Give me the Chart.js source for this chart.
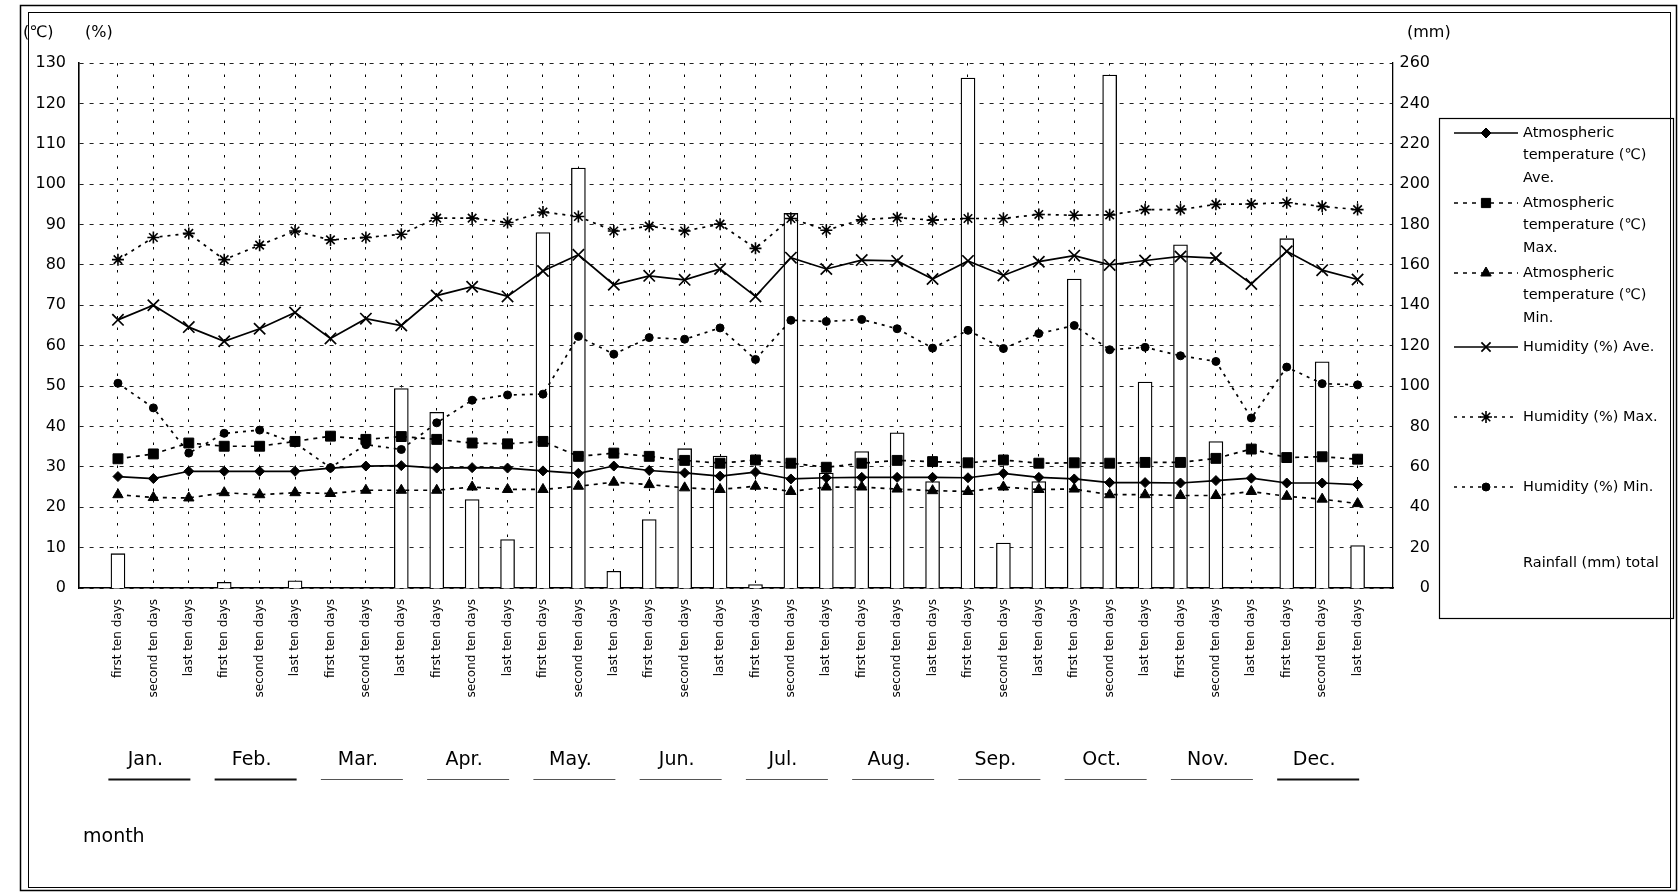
<!DOCTYPE html>
<html>
<head>
<meta charset="utf-8">
<script src="https://cdn.jsdelivr.net/npm/chart.js@4.4.1/dist/chart.umd.min.js"></script>
<style>
  html, body { margin: 0; padding: 0; background: #fff; }
  canvas { display: block; }
</style>
</head>
<body>
<canvas id="chart" width="1679" height="893"></canvas>
<script>
// Ten-day periods, three per month
const months = ['Jan.', 'Feb.', 'Mar.', 'Apr.', 'May.', 'Jun.', 'Jul.', 'Aug.', 'Sep.', 'Oct.', 'Nov.', 'Dec.'];
const periods = ['first ten days', 'second ten days', 'last ten days'];
const dekads = months.flatMap(() => periods);

// Atmospheric temperature (℃)
const tempAve = [27.6, 27.1, 28.9, 28.9, 28.9, 28.9, 29.7, 30.2, 30.3, 29.7, 29.8, 29.7,
                 29.0, 28.4, 30.2, 29.1, 28.5, 27.7, 28.7, 27.0, 27.3, 27.4, 27.4, 27.4,
                 27.3, 28.4, 27.4, 27.0, 26.1, 26.1, 26.0, 26.6, 27.2, 26.0, 26.0, 25.6];
const tempMax = [32.0, 33.2, 35.9, 35.1, 35.1, 36.3, 37.6, 36.8, 37.5, 36.8, 35.9, 35.7,
                 36.3, 32.6, 33.4, 32.6, 31.6, 30.9, 31.7, 30.9, 29.9, 30.9, 31.6, 31.3,
                 31.0, 31.7, 30.9, 31.0, 30.9, 31.1, 31.1, 32.1, 34.4, 32.3, 32.5, 31.9];
const tempMin = [23.1, 22.4, 22.3, 23.6, 23.1, 23.6, 23.4, 24.2, 24.2, 24.2, 25.0, 24.4,
                 24.4, 25.2, 26.2, 25.6, 24.8, 24.4, 25.2, 23.9, 25.0, 25.0, 24.5, 24.1,
                 23.9, 25.0, 24.4, 24.5, 23.1, 23.1, 22.9, 22.9, 23.9, 22.7, 22.0, 20.9];

// Humidity (%)
const humAve = [66.4, 70.0, 64.6, 61.1, 64.2, 68.2, 61.8, 66.7, 65.0, 72.4, 74.6, 72.2,
                78.5, 82.5, 75.1, 77.3, 76.3, 79.0, 72.2, 81.8, 79.0, 81.2, 81.0, 76.5,
                81.0, 77.4, 80.8, 82.3, 80.0, 81.1, 82.1, 81.7, 75.3, 83.4, 78.7, 76.4];
const humMax = [81.3, 86.8, 87.8, 81.3, 84.9, 88.4, 86.2, 86.8, 87.6, 91.6, 91.6, 90.5,
                93.1, 92.0, 88.4, 89.6, 88.4, 90.1, 84.1, 91.5, 88.6, 91.2, 91.7, 91.1,
                91.5, 91.5, 92.5, 92.3, 92.4, 93.7, 93.7, 95.0, 95.1, 95.4, 94.5, 93.7];
const humMin = [50.7, 44.6, 33.4, 38.3, 39.1, 35.9, 29.8, 35.5, 34.3, 40.9, 46.5, 47.8,
                48.0, 62.3, 57.9, 62.0, 61.6, 64.4, 56.6, 66.3, 66.0, 66.5, 64.2, 59.4,
                63.8, 59.3, 63.0, 65.0, 59.0, 59.6, 57.5, 56.1, 42.1, 54.7, 50.6, 50.3];

// Rainfall (mm) total per ten days
const rainfall = [17.0, 0, 0, 2.8, 0, 3.6, 0, 0, 98.8, 87.0, 43.8, 24.0,
                  176.0, 208.0, 8.3, 33.9, 69.0, 65.3, 1.7, 185.5, 56.9, 67.6, 76.9, 52.7,
                  252.5, 22.3, 52.7, 153.0, 254.0, 102.0, 170.0, 72.5, 0, 173.0, 112.0, 21.0];

// Axis ticks
const leftTicks = [0, 10, 20, 30, 40, 50, 60, 70, 80, 90, 100, 110, 120, 130];
const rightTicks = [0, 20, 40, 60, 80, 100, 120, 140, 160, 180, 200, 220, 240, 260];

// Legend text, wrapped as it is set in the key box
const legendText = [
  ['Atmospheric', 'temperature (℃)', 'Ave.'],
  ['Atmospheric', 'temperature (℃)', 'Max.'],
  ['Atmospheric', 'temperature (℃)', 'Min.'],
  ['Humidity (%) Ave.'],
  ['Humidity (%) Max.'],
  ['Humidity (%) Min.'],
  ['Rainfall (mm) total']
];

const FONT = "'DejaVu Sans', Verdana, sans-serif";
const W = 1679, H = 893;

const xy = arr => arr.map((v, i) => ({ x: i, y: v }));

const lineBase = {
  type: 'line', yAxisID: 'y', order: 1, tension: 0,
  borderColor: '#000', backgroundColor: '#000', borderWidth: 1.7,
  pointBorderColor: '#000', pointBackgroundColor: '#000', pointBorderWidth: 1
};
const DASH = [4, 5];

const datasets = [
  { ...lineBase, label: 'Atmospheric temperature (℃) Ave.', data: xy(tempAve),
    pointStyle: 'rectRot', pointRadius: 5 },
  { ...lineBase, label: 'Atmospheric temperature (℃) Max.', data: xy(tempMax),
    borderDash: DASH, pointStyle: 'rect', pointRadius: 7 },
  { ...lineBase, label: 'Atmospheric temperature (℃) Min.', data: xy(tempMin),
    borderDash: DASH, pointStyle: 'triangle', pointRadius: 6 },
  { ...lineBase, label: 'Humidity (%) Ave.', data: xy(humAve),
    pointStyle: 'crossRot', pointRadius: 8, pointBorderWidth: 1.7 },
  { ...lineBase, label: 'Humidity (%) Max.', data: xy(humMax),
    borderDash: [3, 5], pointStyle: 'star', pointRadius: 6, pointBorderWidth: 1.6 },
  { ...lineBase, label: 'Humidity (%) Min.', data: xy(humMin),
    borderDash: [3, 5], pointStyle: 'circle', pointRadius: 4 },
  { type: 'bar', label: 'Rainfall (mm) total', yAxisID: 'y2', order: 10, data: xy(rainfall),
    backgroundColor: '#fff', borderColor: '#000', borderWidth: 1.3, barThickness: 14 }
];

// Frame, unit captions, month row, and the key box
const decor = {
  id: 'decor',
  afterDraw(chart) {
    const ctx = chart.ctx;
    const xs = chart.scales.x;
    const y2 = chart.scales.y2;
    ctx.save();

    // outer double frame
    ctx.strokeStyle = '#000';
    ctx.setLineDash([]);
    ctx.lineWidth = 1.5;
    ctx.strokeRect(20.5, 5.5, W - 23, H - 8);
    ctx.lineWidth = 1;
    ctx.strokeRect(28.5, 12.5, W - 37, H - 18);

    // unit captions
    ctx.fillStyle = '#000';
    ctx.textBaseline = 'middle';
    ctx.font = '16px ' + FONT;
    ctx.textAlign = 'left';
    ctx.fillText('(℃)', 23, 33);
    ctx.fillText('(%)', 85, 33);
    ctx.fillText('(mm)', y2.left + 14, 33);

    // month names under each group of three ten-day periods
    ctx.font = '19px ' + FONT;
    ctx.textAlign = 'center';
    months.forEach((m, k) => {
      const cx = xs.getPixelForValue(3 * k + 1);
      ctx.fillText(m, cx - 8, 760);
      ctx.lineWidth = (k < 2 || k === 11) ? 2 : 1;
      ctx.strokeStyle = (k < 2 || k === 11) ? '#111' : '#555';
      ctx.beginPath();
      ctx.moveTo(cx - 45, 779.5);
      ctx.lineTo(cx + 37, 779.5);
      ctx.stroke();
    });
    ctx.textAlign = 'left';
    ctx.fillText('month', 83, 837);

    // key box
    const bx = 1439, by = 118, bw = 234, bh = 500;
    ctx.strokeStyle = '#000';
    ctx.lineWidth = 1.2;
    ctx.strokeRect(bx + 0.5, by + 0.5, bw, bh);
    ctx.font = '14.5px ' + FONT;
    ctx.textAlign = 'left';
    legendText.forEach((lines, i) => {
      let ty = by + 15 + 70 * i;
      if (lines.length === 1) ty += (i === legendText.length - 1) ? 10 : 4;
      const ds = chart.data.datasets[i];
      if (ds.type === 'line') {
        ctx.save();
        ctx.strokeStyle = '#000';
        ctx.lineWidth = 1.4;
        ctx.setLineDash(ds.borderDash || []);
        ctx.beginPath();
        ctx.moveTo(bx + 15, ty);
        ctx.lineTo(bx + 79, ty);
        ctx.stroke();
        ctx.setLineDash([]);
        ctx.fillStyle = '#000';
        ctx.strokeStyle = '#000';
        ctx.lineWidth = ds.pointBorderWidth;
        Chart.helpers.drawPoint(ctx, {
          pointStyle: ds.pointStyle,
          radius: Math.min(ds.pointRadius, 6.5),
          rotation: 0,
          borderWidth: ds.pointBorderWidth
        }, bx + 47, ty);
        ctx.restore();
      }
      ctx.fillStyle = '#000';
      lines.forEach((t, j) => ctx.fillText(t, bx + 84, ty + 22.5 * j));
    });

    ctx.restore();
  }
};

new Chart(document.getElementById('chart'), {
  type: 'bar',
  data: { datasets },
  plugins: [decor],
  options: {
    responsive: false,
    animation: false,
    layout: { padding: { top: 63, right: 249, bottom: 0, left: 0 } },
    plugins: { legend: { display: false }, tooltip: { enabled: false } },
    scales: {
      x: {
        type: 'linear', min: -1.1, max: 36, offset: false, z: 1,
        afterBuildTicks: s => { s.ticks = dekads.map((_, i) => ({ value: i })); },
        afterFit: s => { s.height = H - 588; },
        ticks: {
          autoSkip: false, minRotation: 90, maxRotation: 90, padding: 11,
          color: '#000', font: { family: FONT, size: 12 },
          callback: v => dekads[v]
        },
        grid: { color: '#000', lineWidth: 1, drawTicks: false, offset: false },
        border: { display: true, color: '#000', width: 1.6, dash: [2.5, 9] }
      },
      y: {
        position: 'left', min: 0, max: 130,
        afterBuildTicks: s => { s.ticks = leftTicks.map(v => ({ value: v })); },
        afterFit: s => { s.width = 79; },
        ticks: { padding: 13, color: '#000', font: { family: FONT, size: 16 } },
        grid: { color: '#222', lineWidth: 1, drawTicks: false },
        border: { display: true, color: '#000', width: 1.6, dash: [4, 6] }
      },
      y2: {
        position: 'right', min: 0, max: 260,
        afterBuildTicks: s => { s.ticks = rightTicks.map(v => ({ value: v })); },
        afterFit: s => { s.width = 37; },
        ticks: { crossAlign: 'far', color: '#000', font: { family: FONT, size: 16 } },
        grid: { display: false, drawTicks: false },
        border: { display: true, color: '#000', width: 1.3 }
      }
    }
  }
});
</script>
</body>
</html>
